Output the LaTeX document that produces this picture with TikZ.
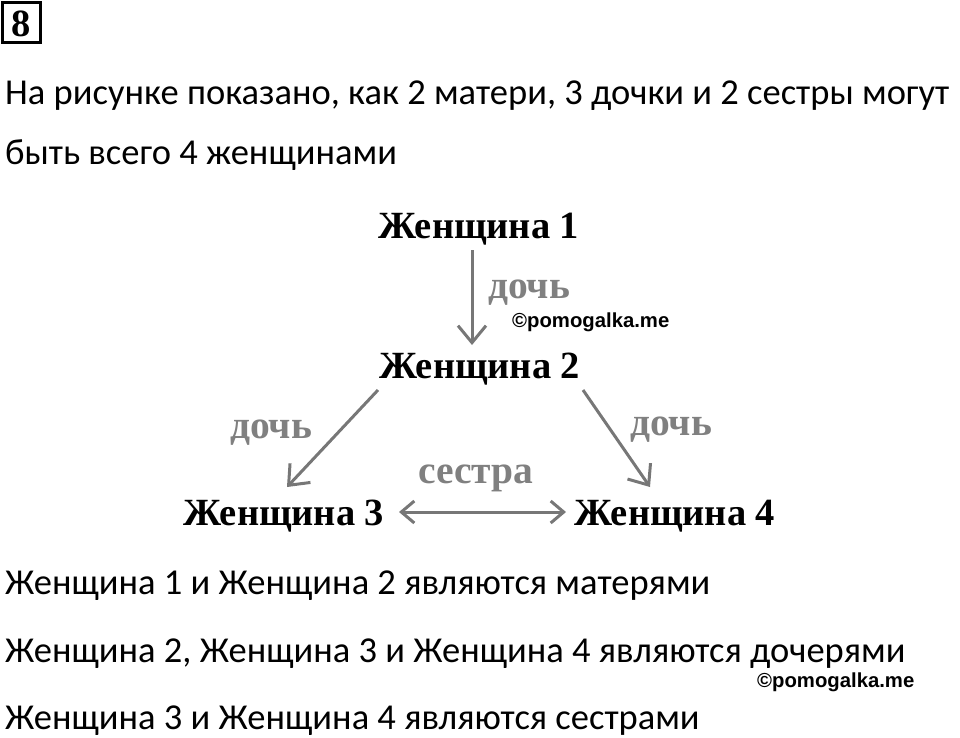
\documentclass[tikz,border=0pt]{standalone}
\usepackage{fontspec}
\setmainfont{Carlito}
\newfontfamily\timesb{Liberation Serif}[BoldFont={* Bold}]
\newfontfamily\arialf{Liberation Sans}
\usetikzlibrary{arrows.meta}
\definecolor{lblgray}{HTML}{808080}
\definecolor{arrgray}{HTML}{777777}
\tikzset{
  body/.style={anchor=base west, inner sep=0pt, font=\fontsize{36.5}{36.5}\selectfont},
  woman/.style={inner sep=0pt, anchor=base, font=\timesb\bfseries\fontsize{38.5}{38.5}\selectfont},
  rel/.style={inner sep=0pt, anchor=base, text=lblgray, font=\timesb\bfseries\fontsize{39.5}{39.5}\selectfont},
  wm/.style={inner sep=0pt, anchor=base west, font=\arialf\bfseries\fontsize{20.3}{20.3}\selectfont},
  conn/.style={draw=arrgray, line width=3pt, -{Straight Barb[length=17pt,width=28pt,line width=3pt]}},
  dconn/.style={draw=arrgray, line width=3pt, {Straight Barb[length=13pt,width=22pt,line width=3pt]}-{Straight Barb[length=13pt,width=22pt,line width=3pt]}},
}
\begin{document}
\begin{tikzpicture}[x=1pt,y=-1pt]
\useasboundingbox (0,0) rectangle (960,737);
\draw[line width=3pt] (2.5,2.5) rectangle (40.5,42.5);
\node[inner sep=0pt, anchor=base, font=\timesb\bfseries\fontsize{38.5}{38.5}\selectfont] (num) at (21.5,36) {8};
\node[body] (l1) at (5,104) {На рисунке показано, как 2 матери, 3 дочки и 2 сестры могут};
\node[body] (l2) at (5,164) {быть всего 4 женщинами};
\node[woman] (w1) at (479,238) {Женщина 1};
\node[woman] (w2) at (480,378) {Женщина 2};
\node[woman] (w3) at (284,525) {Женщина 3};
\node[woman] (w4) at (675,525) {Женщина 4};
\coordinate (a1s) at (472,250);
\coordinate (a1e) at (472,345);
\draw[conn] (a1s) -- (a1e);
\coordinate (a2s) at (378,390);
\coordinate (a2e) at (287,487);
\draw[conn] (a2s) -- (a2e);
\coordinate (a3s) at (583,390);
\coordinate (a3e) at (650,487);
\draw[conn] (a3s) -- (a3e);
\coordinate (a4s) at (399,512);
\coordinate (a4e) at (566,512);
\draw[dconn] (a4s) -- (a4e);
\node[rel] (r1) at (529,298) {дочь};
\node[rel] (r2) at (271,438) {дочь};
\node[rel] (r3) at (671,435) {дочь};
\node[rel] (r4) at (476,483) {сестра};
\node[wm] (wm1) at (512,327) {©pomogalka.me};
\node[body] (b1) at (5,594) {Женщина 1 и Женщина 2 являются матерями};
\node[body] (b2) at (5,662) {Женщина 2, Женщина 3 и Женщина 4 являются дочерями};
\node[wm] (wm2) at (757,687) {©pomogalka.me};
\node[body] (b3) at (5,729) {Женщина 3 и Женщина 4 являются сестрами};
\end{tikzpicture}
\end{document}
